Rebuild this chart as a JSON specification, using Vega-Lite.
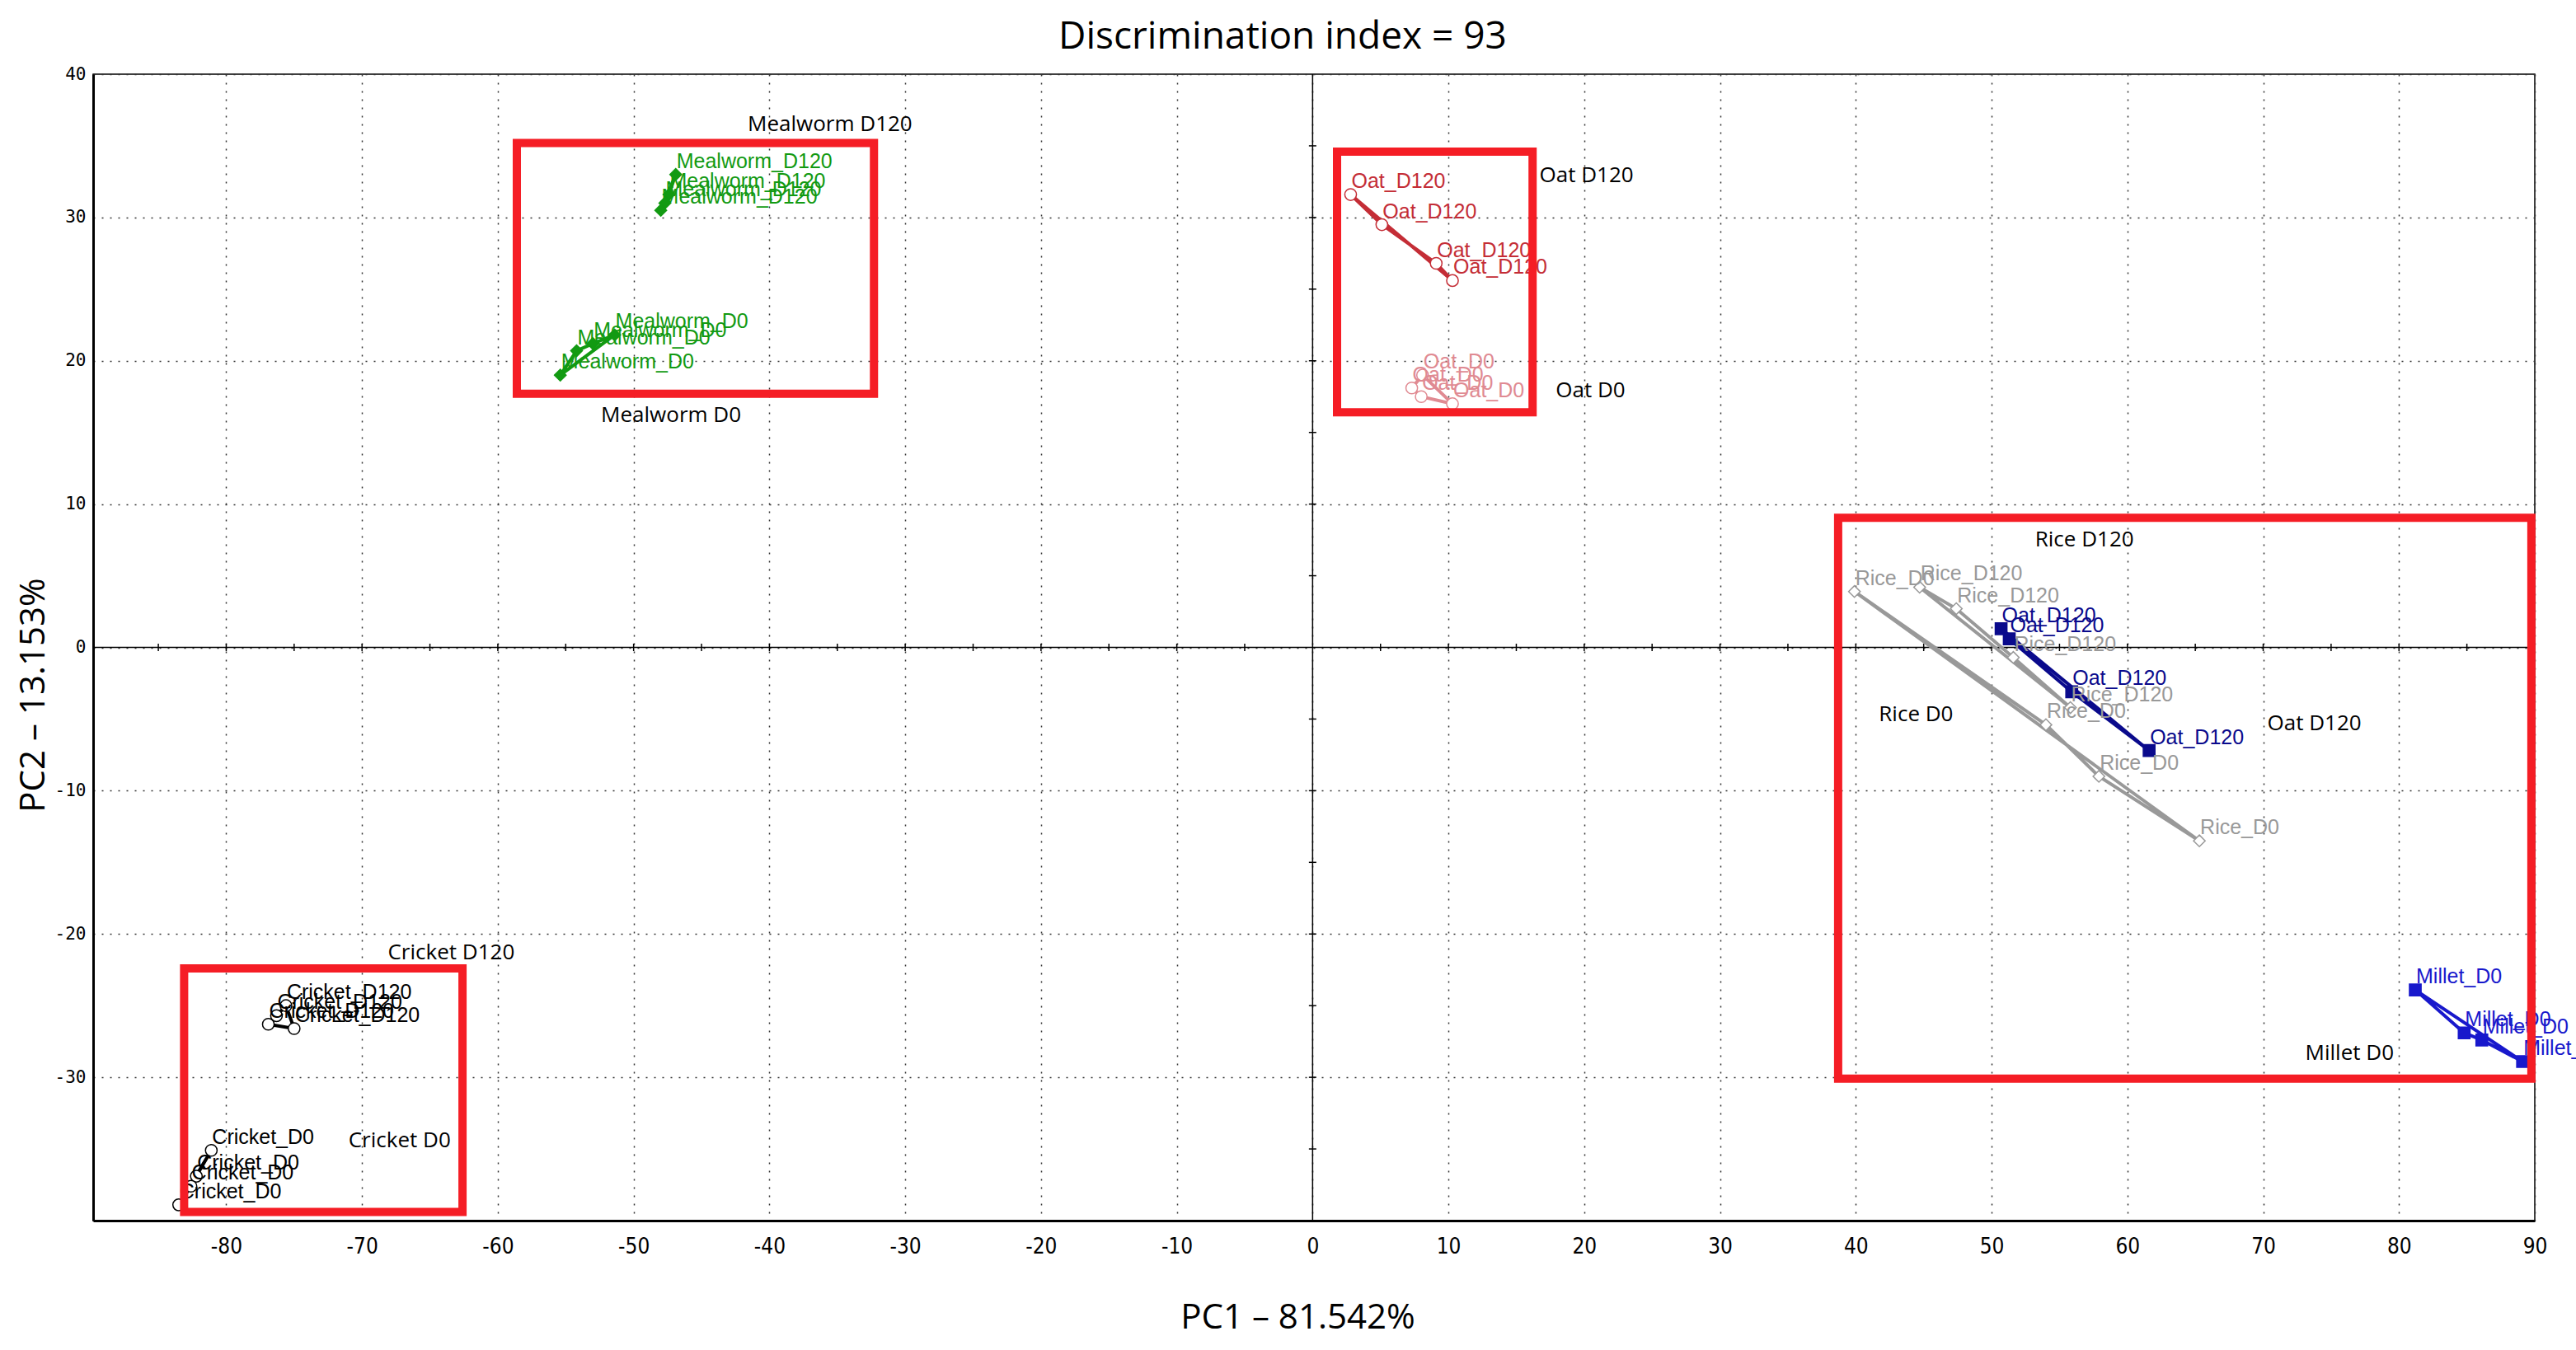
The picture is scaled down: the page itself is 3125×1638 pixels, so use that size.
{
  "$schema": "https://vega.github.io/schema/vega-lite/v6.json",
  "width": 2962,
  "height": 1391,
  "autosize": {"type": "none"},
  "padding": {"left": 113, "top": 90, "right": 50, "bottom": 157},
  "background": "white",
  "title": {"text": "Discrimination index = 93", "font": "Open Sans", "fontSize": 46, "fontWeight": "normal", "color": "#000000", "baseline": "middle", "offset": -12, "dx": -38},
  "config": {
    "view": {"stroke": "#000000", "strokeWidth": 1.5},
    "axis": {"grid": true, "gridColor": "#333333", "gridDash": [2, 8], "gridWidth": 1.5, "ticks": false, "domain": true, "domainColor": "#000000", "domainWidth": 3, "labelColor": "#000000", "titleColor": "#000000", "titleFont": "Open Sans", "titleFontSize": 42, "titleFontWeight": "normal", "labelFlush": false, "labelOverlap": false}
  },
  "datasets": {
    "pts": [
      {"grp": "Mealworm D120", "label": "Mealworm_D120", "x": -46.9, "y": 33.0},
      {"grp": "Mealworm D120", "label": "Mealworm_D120", "x": -47.4, "y": 31.6},
      {"grp": "Mealworm D120", "label": "Mealworm_D120", "x": -47.7, "y": 31.0},
      {"grp": "Mealworm D120", "label": "Mealworm_D120", "x": -48.0, "y": 30.5},
      {"grp": "Mealworm D0", "label": "Mealworm_D0", "x": -55.4, "y": 19.0},
      {"grp": "Mealworm D0", "label": "Mealworm_D0", "x": -54.2, "y": 20.7},
      {"grp": "Mealworm D0", "label": "Mealworm_D0", "x": -53.0, "y": 21.2},
      {"grp": "Mealworm D0", "label": "Mealworm_D0", "x": -51.4, "y": 21.8},
      {"grp": "Oat D120", "label": "Oat_D120", "x": 2.8, "y": 31.6},
      {"grp": "Oat D120", "label": "Oat_D120", "x": 5.1, "y": 29.5},
      {"grp": "Oat D120", "label": "Oat_D120", "x": 9.1, "y": 26.8},
      {"grp": "Oat D120", "label": "Oat_D120", "x": 10.3, "y": 25.6},
      {"grp": "Oat D0", "label": "Oat_D0", "x": 7.3, "y": 18.1},
      {"grp": "Oat D0", "label": "Oat_D0", "x": 8.1, "y": 19.0},
      {"grp": "Oat D0", "label": "Oat_D0", "x": 10.3, "y": 17.0},
      {"grp": "Oat D0", "label": "Oat_D0", "x": 8.0, "y": 17.5},
      {"grp": "Rice D120", "label": "Rice_D120", "x": 44.7, "y": 4.2},
      {"grp": "Rice D120", "label": "Rice_D120", "x": 47.4, "y": 2.7},
      {"grp": "Rice D120", "label": "Rice_D120", "x": 51.6, "y": -0.7},
      {"grp": "Rice D120", "label": "Rice_D120", "x": 55.8, "y": -4.2},
      {"grp": "Rice D0", "label": "Rice_D0", "x": 39.9, "y": 3.9},
      {"grp": "Rice D0", "label": "Rice_D0", "x": 54.0, "y": -5.4},
      {"grp": "Rice D0", "label": "Rice_D0", "x": 57.9, "y": -9.0},
      {"grp": "Rice D0", "label": "Rice_D0", "x": 65.3, "y": -13.5},
      {"grp": "Oat D120 (blue)", "label": "Oat_D120", "x": 50.7, "y": 1.3},
      {"grp": "Oat D120 (blue)", "label": "Oat_D120", "x": 51.3, "y": 0.6},
      {"grp": "Oat D120 (blue)", "label": "Oat_D120", "x": 55.9, "y": -3.1},
      {"grp": "Oat D120 (blue)", "label": "Oat_D120", "x": 61.6, "y": -7.2},
      {"grp": "Millet D0", "label": "Millet_D0", "x": 81.2, "y": -23.9},
      {"grp": "Millet D0", "label": "Millet_D0", "x": 84.8, "y": -26.9},
      {"grp": "Millet D0", "label": "Millet_D0", "x": 86.1, "y": -27.4},
      {"grp": "Millet D0", "label": "Millet_D0", "x": 89.1, "y": -28.9},
      {"grp": "Cricket D120", "label": "Cricket_D120", "x": -76.9, "y": -26.3},
      {"grp": "Cricket D120", "label": "Cricket_D120", "x": -75.0, "y": -26.6},
      {"grp": "Cricket D120", "label": "Cricket_D120", "x": -76.3, "y": -25.7},
      {"grp": "Cricket D120", "label": "Cricket_D120", "x": -75.6, "y": -25.0},
      {"grp": "Cricket D0", "label": "Cricket_D0", "x": -81.1, "y": -35.1},
      {"grp": "Cricket D0", "label": "Cricket_D0", "x": -82.2, "y": -36.9},
      {"grp": "Cricket D0", "label": "Cricket_D0", "x": -82.6, "y": -37.6},
      {"grp": "Cricket D0", "label": "Cricket_D0", "x": -83.5, "y": -38.9}
    ],
    "paths": [
      {"grp": "Mealworm D120", "o": 1, "x": -46.9, "y": 33.0},
      {"grp": "Mealworm D120", "o": 2, "x": -47.4, "y": 31.6},
      {"grp": "Mealworm D120", "o": 3, "x": -47.7, "y": 31.0},
      {"grp": "Mealworm D120", "o": 4, "x": -48.0, "y": 30.5},
      {"grp": "Mealworm D120", "o": 5, "x": -46.9, "y": 33.0},
      {"grp": "Mealworm D0", "o": 1, "x": -55.4, "y": 19.0},
      {"grp": "Mealworm D0", "o": 2, "x": -54.2, "y": 20.7},
      {"grp": "Mealworm D0", "o": 3, "x": -53.0, "y": 21.2},
      {"grp": "Mealworm D0", "o": 4, "x": -51.4, "y": 21.8},
      {"grp": "Mealworm D0", "o": 5, "x": -55.4, "y": 19.0},
      {"grp": "Oat D120", "o": 1, "x": 2.8, "y": 31.6},
      {"grp": "Oat D120", "o": 2, "x": 5.1, "y": 29.5},
      {"grp": "Oat D120", "o": 3, "x": 9.1, "y": 26.8},
      {"grp": "Oat D120", "o": 4, "x": 10.3, "y": 25.6},
      {"grp": "Oat D120", "o": 5, "x": 2.8, "y": 31.6},
      {"grp": "Oat D0", "o": 1, "x": 7.3, "y": 18.1},
      {"grp": "Oat D0", "o": 2, "x": 8.1, "y": 19.0},
      {"grp": "Oat D0", "o": 3, "x": 10.3, "y": 17.0},
      {"grp": "Oat D0", "o": 4, "x": 8.0, "y": 17.5},
      {"grp": "Oat D0", "o": 5, "x": 7.3, "y": 18.1},
      {"grp": "Rice D120", "o": 1, "x": 44.7, "y": 4.2},
      {"grp": "Rice D120", "o": 2, "x": 47.4, "y": 2.7},
      {"grp": "Rice D120", "o": 3, "x": 51.6, "y": -0.7},
      {"grp": "Rice D120", "o": 4, "x": 55.8, "y": -4.2},
      {"grp": "Rice D120", "o": 5, "x": 44.7, "y": 4.2},
      {"grp": "Rice D0", "o": 1, "x": 39.9, "y": 3.9},
      {"grp": "Rice D0", "o": 2, "x": 54.0, "y": -5.4},
      {"grp": "Rice D0", "o": 3, "x": 57.9, "y": -9.0},
      {"grp": "Rice D0", "o": 4, "x": 65.3, "y": -13.5},
      {"grp": "Rice D0", "o": 5, "x": 39.9, "y": 3.9},
      {"grp": "Oat D120 (blue)", "o": 1, "x": 50.7, "y": 1.3},
      {"grp": "Oat D120 (blue)", "o": 2, "x": 51.3, "y": 0.6},
      {"grp": "Oat D120 (blue)", "o": 3, "x": 55.9, "y": -3.1},
      {"grp": "Oat D120 (blue)", "o": 4, "x": 61.6, "y": -7.2},
      {"grp": "Oat D120 (blue)", "o": 5, "x": 50.7, "y": 1.3},
      {"grp": "Millet D0", "o": 1, "x": 81.2, "y": -23.9},
      {"grp": "Millet D0", "o": 2, "x": 84.8, "y": -26.9},
      {"grp": "Millet D0", "o": 3, "x": 86.1, "y": -27.4},
      {"grp": "Millet D0", "o": 4, "x": 89.1, "y": -28.9},
      {"grp": "Millet D0", "o": 5, "x": 81.2, "y": -23.9},
      {"grp": "Cricket D120", "o": 1, "x": -76.9, "y": -26.3},
      {"grp": "Cricket D120", "o": 2, "x": -75.0, "y": -26.6},
      {"grp": "Cricket D120", "o": 3, "x": -75.6, "y": -25.0},
      {"grp": "Cricket D120", "o": 4, "x": -76.3, "y": -25.7},
      {"grp": "Cricket D120", "o": 5, "x": -76.9, "y": -26.3},
      {"grp": "Cricket D0", "o": 1, "x": -81.1, "y": -35.1},
      {"grp": "Cricket D0", "o": 2, "x": -82.2, "y": -36.9},
      {"grp": "Cricket D0", "o": 3, "x": -82.6, "y": -37.6},
      {"grp": "Cricket D0", "o": 4, "x": -83.5, "y": -38.9},
      {"grp": "Cricket D0", "o": 5, "x": -81.1, "y": -35.1}
    ],
    "notes": [
      {"text": "Mealworm D120", "x": -41.6, "y": 36.5},
      {"text": "Mealworm D0", "x": -52.4, "y": 16.2},
      {"text": "Oat D120", "x": 16.7, "y": 32.9},
      {"text": "Oat D0", "x": 17.9, "y": 17.9},
      {"text": "Rice D120", "x": 53.2, "y": 7.5},
      {"text": "Rice D0", "x": 41.7, "y": -4.7},
      {"text": "Oat D120", "x": 70.3, "y": -5.3},
      {"text": "Millet D0", "x": 73.1, "y": -28.3},
      {"text": "Cricket D120", "x": -68.1, "y": -21.3},
      {"text": "Cricket D0", "x": -71.0, "y": -34.4}
    ],
    "boxes": [
      {"x": -58.6, "x2": -32.3, "y": 17.7, "y2": 35.2},
      {"x": 1.8, "x2": 16.2, "y": 16.4, "y2": 34.6},
      {"x": 38.7, "x2": 89.75, "y": -30.1, "y2": 9.05},
      {"x": -83.1, "x2": -62.6, "y": -39.4, "y2": -22.4}
    ],
    "hticks": [
      {"x": -85}, {"x": -80}, {"x": -75}, {"x": -70}, {"x": -65}, {"x": -60}, {"x": -55}, {"x": -50}, {"x": -45}, {"x": -40}, {"x": -35}, {"x": -30}, {"x": -25}, {"x": -20}, {"x": -15}, {"x": -10}, {"x": -5},
      {"x": 5}, {"x": 10}, {"x": 15}, {"x": 20}, {"x": 25}, {"x": 30}, {"x": 35}, {"x": 40}, {"x": 45}, {"x": 50}, {"x": 55}, {"x": 60}, {"x": 65}, {"x": 70}, {"x": 75}, {"x": 80}, {"x": 85}
    ],
    "vticks": [
      {"y": -35}, {"y": -30}, {"y": -25}, {"y": -20}, {"y": -15}, {"y": -10}, {"y": -5},
      {"y": 5}, {"y": 10}, {"y": 15}, {"y": 20}, {"y": 25}, {"y": 30}, {"y": 35}
    ]
  },
  "layer": [
    {
      "data": {"name": "pts"},
      "mark": {"type": "point", "opacity": 0},
      "encoding": {
        "x": {"field": "x", "type": "quantitative", "scale": {"domain": [-89.8, 90], "nice": false, "zero": false},
          "axis": {"title": "PC1 – 81.542%", "values": [-80, -70, -60, -50, -40, -30, -20, -10, 0, 10, 20, 30, 40, 50, 60, 70, 80, 90], "format": "d", "labelExpr": "replace(datum.label, '−', '-')", "labelFont": "DejaVu Sans Condensed, Liberation Sans Narrow, sans-serif", "labelFontSize": 26, "labelPadding": 18, "titleX": 1461, "titleY": 117, "titleBaseline": "middle"}},
        "y": {"field": "y", "type": "quantitative", "scale": {"domain": [-40, 40], "nice": false, "zero": false},
          "axis": {"title": "PC2 – 13.153%", "values": [-30, -20, -10, 0, 10, 20, 30, 40], "labelExpr": "replace(datum.label, '−', '-')", "labelFont": "DejaVu Sans Mono", "labelFontSize": 21, "labelPadding": 9, "titleX": -73, "titleY": 753, "titleBaseline": "middle"}}
      }
    },
    {
      "data": {"values": [{"v": 0}]},
      "mark": {"type": "rule", "color": "#000000", "strokeWidth": 1.5},
      "encoding": {"x": {"datum": 0, "type": "quantitative"}}
    },
    {
      "data": {"values": [{"v": 0}]},
      "mark": {"type": "rule", "color": "#000000", "strokeWidth": 1.5},
      "encoding": {"y": {"datum": 0, "type": "quantitative"}}
    },
    {
      "data": {"name": "hticks"},
      "mark": {"type": "tick", "orient": "vertical", "color": "#000000", "size": 9, "thickness": 1.5, "opacity": 1},
      "encoding": {
        "x": {"field": "x", "type": "quantitative"},
        "y": {"datum": 0, "type": "quantitative"}
      }
    },
    {
      "data": {"name": "vticks"},
      "mark": {"type": "tick", "orient": "horizontal", "color": "#000000", "size": 9, "thickness": 1.5, "opacity": 1},
      "encoding": {
        "y": {"field": "y", "type": "quantitative"},
        "x": {"datum": 0, "type": "quantitative"}
      }
    },
    {
      "data": {"name": "paths"},
      "mark": {"type": "line", "strokeJoin": "miter"},
      "encoding": {
        "x": {"field": "x", "type": "quantitative"},
        "y": {"field": "y", "type": "quantitative"},
        "order": {"field": "o", "type": "quantitative"},
        "detail": {"field": "grp", "type": "nominal"},
        "color": {"field": "grp", "type": "nominal", "legend": null,
          "scale": {"domain": ["Mealworm D120", "Mealworm D0", "Oat D120", "Oat D0", "Rice D120", "Rice D0", "Oat D120 (blue)", "Millet D0", "Cricket D120", "Cricket D0"],
            "range": ["#129a12", "#129a12", "#c42d36", "#e08a92", "#999999", "#999999", "#0a0a8c", "#1818cc", "#000000", "#000000"]}},
        "strokeWidth": {"field": "grp", "type": "ordinal", "legend": null,
          "scale": {"domain": ["Mealworm D120", "Mealworm D0", "Oat D120", "Oat D0", "Rice D120", "Rice D0", "Oat D120 (blue)", "Millet D0", "Cricket D120", "Cricket D0"],
            "range": [4, 4, 1.5, 1.5, 1.2, 1.2, 2, 1.5, 1.2, 1.2]}}
      }
    },
    {
      "data": {"name": "pts"},
      "mark": {"type": "point", "filled": true, "opacity": 1, "strokeWidth": 1.5},
      "encoding": {
        "x": {"field": "x", "type": "quantitative"},
        "y": {"field": "y", "type": "quantitative"},
        "stroke": {"field": "grp", "type": "nominal", "legend": null,
          "scale": {"domain": ["Mealworm D120", "Mealworm D0", "Oat D120", "Oat D0", "Rice D120", "Rice D0", "Oat D120 (blue)", "Millet D0", "Cricket D120", "Cricket D0"],
            "range": ["#129a12", "#129a12", "#c42d36", "#e08a92", "#999999", "#999999", "#0a0a8c", "#1818cc", "#000000", "#000000"]}},
        "fill": {"field": "grp", "type": "nominal", "legend": null,
          "scale": {"domain": ["Mealworm D120", "Mealworm D0", "Oat D120", "Oat D0", "Rice D120", "Rice D0", "Oat D120 (blue)", "Millet D0", "Cricket D120", "Cricket D0"],
            "range": ["#129a12", "#129a12", "#ffffff", "#ffffff", "#ffffff", "#ffffff", "#0a0a8c", "#1818cc", "#ffffff", "#ffffff"]}},
        "shape": {"field": "grp", "type": "nominal", "legend": null,
          "scale": {"domain": ["Mealworm D120", "Mealworm D0", "Oat D120", "Oat D0", "Rice D120", "Rice D0", "Oat D120 (blue)", "Millet D0", "Cricket D120", "Cricket D0"],
            "range": ["diamond", "diamond", "circle", "circle", "diamond", "diamond", "square", "square", "circle", "circle"]}},
        "size": {"field": "grp", "type": "ordinal", "legend": null,
          "scale": {"domain": ["Mealworm D120", "Mealworm D0", "Oat D120", "Oat D0", "Rice D120", "Rice D0", "Oat D120 (blue)", "Millet D0", "Cricket D120", "Cricket D0"],
            "range": [200, 200, 64, 64, 170, 170, 180, 160, 64, 64]}}
      }
    },
    {
      "data": {"name": "pts"},
      "mark": {"type": "text", "font": "Liberation Sans", "fontSize": 25, "align": "left", "baseline": "alphabetic", "dx": 1, "dy": -8},
      "encoding": {
        "x": {"field": "x", "type": "quantitative"},
        "y": {"field": "y", "type": "quantitative"},
        "text": {"field": "label", "type": "nominal"},
        "color": {"field": "grp", "type": "nominal", "legend": null,
          "scale": {"domain": ["Mealworm D120", "Mealworm D0", "Oat D120", "Oat D0", "Rice D120", "Rice D0", "Oat D120 (blue)", "Millet D0", "Cricket D120", "Cricket D0"],
            "range": ["#129a12", "#129a12", "#c42d36", "#e08a92", "#999999", "#999999", "#0a0a8c", "#1818cc", "#000000", "#000000"]}}
      }
    },
    {
      "data": {"name": "notes"},
      "mark": {"type": "text", "font": "Open Sans", "fontSize": 26, "align": "left", "baseline": "middle", "color": "#000000"},
      "encoding": {
        "x": {"field": "x", "type": "quantitative"},
        "y": {"field": "y", "type": "quantitative"},
        "text": {"field": "text", "type": "nominal"}
      }
    },
    {
      "data": {"name": "boxes"},
      "mark": {"type": "rect", "filled": false, "stroke": "#f51d25", "strokeWidth": 10, "opacity": 1},
      "encoding": {
        "x": {"field": "x", "type": "quantitative"},
        "x2": {"field": "x2"},
        "y": {"field": "y", "type": "quantitative"},
        "y2": {"field": "y2"}
      }
    }
  ]
}
